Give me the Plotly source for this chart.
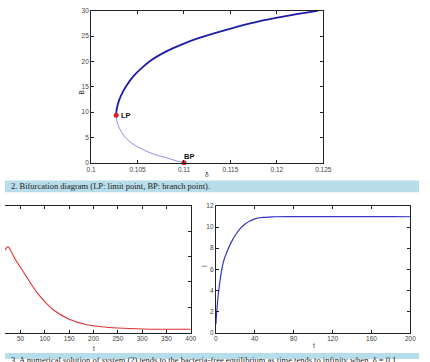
import plotly.graph_objects as go

W, H = 430, 362

# ---- Data ----
# Bifurcation diagram: upper branch and lower branch (delta, B)
upper_delta = [0.1027, 0.10276, 0.10292, 0.10323, 0.10380, 0.10461, 0.10545, 0.10635, 0.1081,
               0.10980, 0.11156, 0.11503, 0.1185, 0.12198, 0.1244]
upper_B     = [9.4, 10.6, 11.8, 13.3, 15.2, 17.2, 18.7, 20.1, 22.0,
               23.4, 24.6, 26.5, 28.1, 29.3, 30.0]
lower_delta = [0.1027, 0.10276, 0.1029, 0.10323, 0.1038, 0.10461, 0.10635, 0.1081, 0.1092, 0.1100]
lower_B     = [9.4, 8.5, 7.5, 6.2, 4.8, 3.6, 2.0, 1.0, 0.4, 0.0]
special_delta = [0.1027, 0.1100]
special_B     = [9.4, 0.0]
special_labels = ["LP", "BP"]

# Left time series (red)
t_left = [10, 18, 24, 30, 38, 51, 68, 84, 101, 117, 150, 184, 217, 250, 300, 350, 400]
v_left = [0.62, 0.654, 0.677, 0.644, 0.585, 0.508, 0.405, 0.315, 0.238, 0.18, 0.105, 0.064, 0.046, 0.036, 0.028, 0.026, 0.026]

# Right time series (blue), I(t)
t_right = [0, 2, 5, 8, 12, 16, 20, 25, 30, 40, 50, 60, 80, 100, 120, 140, 160, 180, 200]
I_right = [0.8, 3.2, 5.4, 6.8, 7.8, 8.6, 9.25, 9.85, 10.3, 10.78, 10.93, 10.98, 11.0, 11.0, 11.0, 11.0, 11.0, 11.0, 10.98]

caption1 = "2. Bifurcation diagram (LP: limit point, BP: branch point)."
caption2 = "3. A numerical solution of system (2) tends to the bacteria-free equilibrium as time tends to infinity when  δ = 0.1"

def px(x): return x / W
def py(y): return 1 - y / H

fig = go.Figure()

fig.add_trace(go.Scatter(x=lower_delta, y=lower_B, mode="lines",
                         line=dict(color="#8f8fe6", width=1, shape="spline", smoothing=1.0),
                         xaxis="x", yaxis="y", showlegend=False))
fig.add_trace(go.Scatter(x=upper_delta, y=upper_B, mode="lines",
                         line=dict(color="#1c1caa", width=1.8, shape="spline", smoothing=1.0),
                         xaxis="x", yaxis="y", showlegend=False))
fig.add_trace(go.Scatter(x=special_delta, y=special_B, mode="markers",
                         marker=dict(color="#e02020", size=5),
                         xaxis="x", yaxis="y", showlegend=False, cliponaxis=False))

fig.add_trace(go.Scatter(x=t_left, y=v_left, mode="lines",
                         line=dict(color="#e03030", width=1.1, shape="spline"),
                         xaxis="x2", yaxis="y2", showlegend=False))
fig.add_trace(go.Scatter(x=t_right, y=I_right, mode="lines",
                         line=dict(color="#3434c4", width=1.2, shape="spline"),
                         xaxis="x3", yaxis="y3", showlegend=False))

tickfont = dict(family="Liberation Sans, Arial", size=6.5, color="#444444")
axcommon = dict(showline=True, linecolor="#222222", linewidth=1, ticks="inside",
                ticklen=3, tickcolor="#222222", showgrid=False, zeroline=False,
                tickfont=tickfont)

fig.update_layout(
    width=W, height=H, margin=dict(l=0, r=0, t=0, b=0),
    paper_bgcolor="white", plot_bgcolor="white",
    xaxis=dict(domain=[px(89), px(329)], anchor="y", range=[0.1, 0.125],
               tickvals=[0.1, 0.105, 0.11, 0.115, 0.12, 0.125],
               ticktext=["0.1", "0.105", "0.11", "0.115", "0.12", "0.125"],
               mirror="ticks", **axcommon),
    yaxis=dict(domain=[py(162), py(7)], anchor="x", range=[0, 30], dtick=5,
               mirror="ticks", **axcommon),
    xaxis2=dict(domain=[px(0), px(192)], anchor="y2", range=[17.9, 400],
                tickvals=[50, 100, 150, 200, 250, 300, 350, 400],
                mirror="ticks", **axcommon),
    yaxis2=dict(domain=[py(335), py(206)], anchor="x2", range=[0, 1], dtick=0.2,
                side="right", showticklabels=False, **axcommon),
    xaxis3=dict(domain=[px(218), px(419)], anchor="y3", range=[0, 200],
                tickvals=[0, 40, 80, 120, 160, 200],
                mirror="ticks", **axcommon),
    yaxis3=dict(domain=[py(335), py(206)], anchor="x3", range=[0, 12], dtick=2,
                mirror="ticks", **axcommon),
)

shapes = [
    dict(type="rect", xref="paper", yref="paper", x0=0, x1=px(428), y0=py(192), y1=py(180),
         fillcolor="#b6dde9", line=dict(width=0), layer="below"),
    dict(type="rect", xref="paper", yref="paper", x0=0, x1=px(428), y0=py(362), y1=py(356),
         fillcolor="#b6dde9", line=dict(width=0), layer="below"),
]
fig.update_layout(shapes=shapes)

lblfont = dict(family="Liberation Sans, Arial", size=6.5, color="#333333")
annos = [
    dict(x=special_delta[0], y=special_B[0], xref="x", yref="y", text="<b>" + special_labels[0] + "</b>",
         showarrow=False, xanchor="left", yanchor="middle", xshift=3,
         font=dict(family="Liberation Sans, Arial", size=7.5, color="#111111")),
    dict(x=special_delta[1], y=special_B[1], xref="x", yref="y", text="<b>" + special_labels[1] + "</b>",
         showarrow=False, xanchor="left", yanchor="bottom", xshift=-2, yshift=0,
         font=dict(family="Liberation Sans, Arial", size=7.5, color="#111111")),
    dict(x=px(73), y=py(86), xref="paper", yref="paper", text="B", textangle=-90,
         showarrow=False, font=lblfont),
    dict(x=px(209), y=py(174), xref="paper", yref="paper", text="δ",
         showarrow=False, font=lblfont),
    dict(x=px(92), y=py(346), xref="paper", yref="paper", text="t",
         showarrow=False, xanchor="center", yanchor="top", font=lblfont),
    dict(x=px(319), y=py(343), xref="paper", yref="paper", text="t",
         showarrow=False, xanchor="center", yanchor="top", font=lblfont),
    dict(x=px(206), y=py(270), xref="paper", yref="paper", text="I", textangle=-90,
         showarrow=False, font=lblfont),
    dict(x=px(4), y=py(186), xref="paper", yref="paper", text=caption1,
         showarrow=False, xanchor="left", yanchor="middle",
         font=dict(family="Liberation Serif, Times New Roman", size=8.5, color="#222222")),
    dict(x=px(4), y=py(363), xref="paper", yref="paper", text=caption2,
         showarrow=False, xanchor="left", yanchor="middle",
         font=dict(family="Liberation Serif, Times New Roman", size=8.5, color="#222222")),
]
fig.update_layout(annotations=annos)

fig.write_html("out.html")
